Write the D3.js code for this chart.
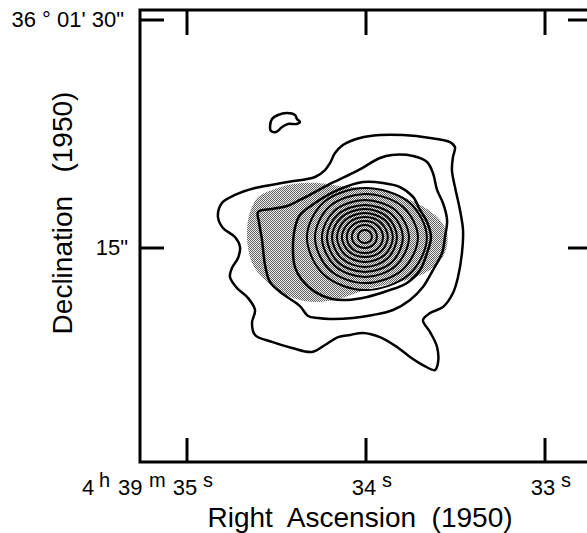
<!DOCTYPE html>
<html>
<head>
<meta charset="utf-8">
<script src="https://cdn.jsdelivr.net/npm/d3@7"></script>
<style>
html, body { margin: 0; padding: 0; background: #fff; }
svg { display: block; }
text { font-family: "Liberation Sans", Arial, Helvetica, sans-serif; fill: #000; white-space: pre; }
</style>
</head>
<body>
<svg id="chart" width="587" height="533"></svg>
<script>
// ---------------- DATA ----------------
// RA in seconds of time (4h 39m ss), Dec in arcsec (36° 01' ss")
const raTicks = [35, 34, 33];
const raTickLabels = ["35", "34", "33"];
const decTicks = [30, 15];
const decTickLabels = ["36 ° 01' 30\"", "15\""];

// stippled (shaded) emission region
const shade = [[34.665,16.18],[34.648,17.37],[34.603,18.36],[34.525,18.82],[34.408,19.21],[34.268,19.28],
  [34.145,19.08],[34.006,18.95],[33.866,18.68],[33.754,18.16],[33.659,17.57],[33.587,16.84],[33.547,15.99],
  [33.553,14.87],[33.598,14.01],[33.670,13.36],[33.754,12.96],[33.866,12.63],[34.006,12.24],[34.117,11.78],
  [34.257,11.45],[34.369,11.58],[34.464,12.04],[34.564,12.89],[34.631,13.88],[34.659,15.00]];

// contour levels, outermost first
const contour1 = [[34.827,17.04],[34.805,17.96],[34.732,18.49],[34.620,18.95],[34.436,19.34],[34.285,19.67],
  [34.229,20.13],[34.201,20.59],[34.173,21.25],[34.129,21.78],[34.034,22.24],[33.922,22.43],[33.793,22.43],
  [33.642,22.24],[33.531,21.97],[33.503,21.64],[33.514,20.99],[33.520,20.13],[33.503,19.01],[33.475,17.50],
  [33.458,16.18],[33.464,14.67],[33.486,13.09],[33.514,12.04],[33.570,11.12],[33.642,10.72],[33.682,10.26],
  [33.642,9.47],[33.603,8.49],[33.598,7.43],[33.615,6.97],[33.682,7.30],[33.754,7.83],[33.827,8.49],
  [33.922,9.14],[34.017,9.41],[34.089,9.28],[34.156,9.14],[34.229,8.62],[34.302,8.16],[34.413,8.42],
  [34.525,8.82],[34.620,9.28],[34.637,10.07],[34.620,10.92],[34.659,11.71],[34.721,12.37],[34.760,13.09],
  [34.749,13.68],[34.715,14.34],[34.704,15.07],[34.732,15.72],[34.799,16.32]];

const contour2 = [[34.603,17.37],[34.525,17.57],[34.441,17.76],[34.369,18.16],[34.285,18.68],[34.190,19.28],
  [34.050,20.07],[33.922,20.92],[33.855,21.12],[33.737,21.05],[33.659,20.66],[33.626,19.93],[33.603,18.82],
  [33.570,17.96],[33.547,16.84],[33.559,15.72],[33.575,14.67],[33.626,13.55],[33.682,12.43],[33.754,11.58],
  [33.849,10.92],[33.961,10.59],[34.073,10.39],[34.201,10.33],[34.268,10.39],[34.324,10.53],[34.369,11.18],
  [34.464,11.97],[34.536,12.76],[34.564,13.88],[34.581,15.53],[34.598,16.71]];

const contour3 = [[34.408,14.87],[34.397,16.32],[34.369,17.17],[34.285,17.96],[34.156,18.82],[34.017,19.34],
  [33.905,19.28],[33.810,19.01],[33.737,18.36],[33.698,17.50],[33.659,16.71],[33.637,15.72],[33.659,14.67],
  [33.698,13.55],[33.771,12.70],[33.883,12.17],[33.994,11.78],[34.106,11.58],[34.190,11.64],[34.285,12.11],
  [34.358,12.89],[34.397,13.75]];

const ring10 = [[34.330,15.72],[34.236,18.01],[34.006,18.94],[33.760,18.01],[33.660,15.72],[33.760,13.25],[34.006,12.23],[34.236,13.25]];
const ring9  = [[34.285,15.72],[34.204,17.73],[34.006,18.55],[33.796,17.73],[33.710,15.72],[33.796,13.57],[34.006,12.69],[34.204,13.57]];
const ring8  = [[34.246,15.72],[34.176,17.45],[34.006,18.15],[33.832,17.45],[33.760,15.72],[33.832,13.85],[34.006,13.09],[34.176,13.85]];
const ring7  = [[34.218,15.72],[34.157,17.21],[34.006,17.83],[33.855,17.21],[33.794,15.72],[33.855,14.08],[34.006,13.42],[34.157,14.08]];
const ring6  = [[34.190,15.72],[34.137,17.03],[34.006,17.56],[33.879,17.03],[33.827,15.72],[33.879,14.32],[34.006,13.75],[34.137,14.32]];
const ring5  = [[34.162,15.72],[34.117,16.84],[34.006,17.30],[33.895,16.84],[33.850,15.72],[33.895,14.55],[34.006,14.08],[34.117,14.55]];
const ring4  = [[34.135,15.72],[34.097,16.65],[34.006,17.04],[33.915,16.65],[33.878,15.72],[33.915,14.79],[34.006,14.40],[34.097,14.79]];
const ring3  = [[34.107,15.72],[34.078,16.47],[34.006,16.77],[33.935,16.47],[33.905,15.72],[33.935,14.97],[34.006,14.67],[34.078,14.97]];
const ring2  = [[34.079,15.72],[34.057,16.28],[34.006,16.51],[33.959,16.28],[33.939,15.72],[33.959,15.21],[34.006,15.00],[34.057,15.21]];
const ring1  = [[34.045,15.72],[34.034,16.05],[34.006,16.18],[33.978,16.05],[33.967,15.72],[33.978,15.44],[34.006,15.33],[34.034,15.44]];

// small isolated contour to the north
const island = [[34.536,23.03],[34.525,23.49],[34.492,23.75],[34.441,23.88],[34.397,23.75],[34.386,23.49],
  [34.369,23.29],[34.386,23.16],[34.436,23.16],[34.469,22.96],[34.503,22.63],[34.531,22.70]];

const outerContours = [contour1, contour2, contour3, island];
const innerContours = [ring10, ring9, ring8, ring7, ring6, ring5, ring4, ring3, ring2, ring1];

// ---------------- LAYOUT ----------------
const frame = { left: 140, right: 592, top: 10, bottom: 462 };
const x = d3.scaleLinear().domain([35, 34]).range([187, 366]);
const y = d3.scaleLinear().domain([30, 15]).range([20, 248]);

const svg = d3.select("#chart");

// stipple pattern
const defs = svg.append("defs");
const pat = defs.append("pattern").attr("id", "stipple")
  .attr("width", 2).attr("height", 2).attr("patternUnits", "userSpaceOnUse");
pat.append("rect").attr("width", 2).attr("height", 2).attr("fill", "#e8e8e8");
pat.append("rect").attr("x", 0).attr("y", 0).attr("width", 1).attr("height", 1).attr("fill", "#666");
pat.append("rect").attr("x", 1).attr("y", 1).attr("width", 1).attr("height", 1).attr("fill", "#666");

const line = d3.line()
  .x(d => x(d[0])).y(d => y(d[1]))
  .curve(d3.curveCatmullRomClosed.alpha(0.5));

// shaded region
svg.append("path").datum(shade)
  .attr("d", line)
  .attr("fill", "url(#stipple)")
  .attr("stroke", "none");

// contours
svg.append("g").selectAll("path").data(outerContours).join("path")
  .attr("d", line)
  .attr("fill", "none").attr("stroke", "#000").attr("stroke-width", 2.5)
  .attr("stroke-linejoin", "round");

svg.append("g").selectAll("path").data(innerContours).join("path")
  .attr("d", line)
  .attr("fill", "none").attr("stroke", "#000").attr("stroke-width", 2.0)
  .attr("stroke-linejoin", "round");

// frame
const fg = svg.append("g").attr("stroke", "#000").attr("stroke-width", 3).attr("fill", "none");
fg.append("path").attr("d",
  `M${frame.right},${frame.top}H${frame.left}V${frame.bottom}H${frame.right}`)
  .attr("stroke-linecap", "square");

// RA ticks (top and bottom)
const tickLen = 24;
fg.selectAll(".rt").data(raTicks).join("line")
  .attr("x1", d => x(d)).attr("x2", d => x(d))
  .attr("y1", frame.top).attr("y2", frame.top + tickLen + 1);
fg.selectAll(".rb").data(raTicks).join("line")
  .attr("x1", d => x(d)).attr("x2", d => x(d))
  .attr("y1", frame.bottom).attr("y2", frame.bottom - tickLen);
// Dec ticks (left and right)
fg.selectAll(".dl").data(decTicks).join("line")
  .attr("x1", frame.left).attr("x2", frame.left + tickLen)
  .attr("y1", d => y(d)).attr("y2", d => y(d));
fg.selectAll(".dr").data(decTicks).join("line")
  .attr("x1", frame.right).attr("x2", frame.right - tickLen)
  .attr("y1", d => y(d)).attr("y2", d => y(d));

// Dec tick labels
svg.selectAll(".dlab").data(decTicks).join("text")
  .attr("x", (d, i) => i === 0 ? 124 : 128)
  .attr("y", d => y(d) + 7)
  .attr("text-anchor", "end")
  .attr("font-size", 22)
  .text((d, i) => decTickLabels[i]);

// RA tick labels
const labY = 495, supY = 487;
svg.selectAll(".rlab").data(raTicks).join("text")
  .attr("x", d => x(d) - 2).attr("y", labY)
  .attr("text-anchor", "middle").attr("font-size", 22)
  .text((d, i) => raTickLabels[i]);
svg.selectAll(".rsup").data(raTicks).join("text")
  .attr("x", d => x(d) + 16).attr("y", supY)
  .attr("font-size", 20)
  .text("s");
// prefix "4 h 39 m" for the first label
const x0 = x(raTicks[0]);
svg.append("text").attr("x", x0 - 105).attr("y", labY).attr("font-size", 22).text("4");
svg.append("text").attr("x", x0 - 88).attr("y", supY).attr("font-size", 20).text("h");
svg.append("text").attr("x", x0 - 69).attr("y", labY).attr("font-size", 22).text("39");
svg.append("text").attr("x", x0 - 38).attr("y", supY).attr("font-size", 20).text("m");

// axis titles
svg.append("text")
  .attr("x", 360).attr("y", 527)
  .attr("text-anchor", "middle").attr("font-size", 28)
  .text("Right  Ascension  (1950)");
svg.append("text")
  .attr("transform", "translate(72,213) rotate(-90)")
  .attr("text-anchor", "middle").attr("font-size", 28)
  .text("Declination   (1950)");
</script>
</body>
</html>
